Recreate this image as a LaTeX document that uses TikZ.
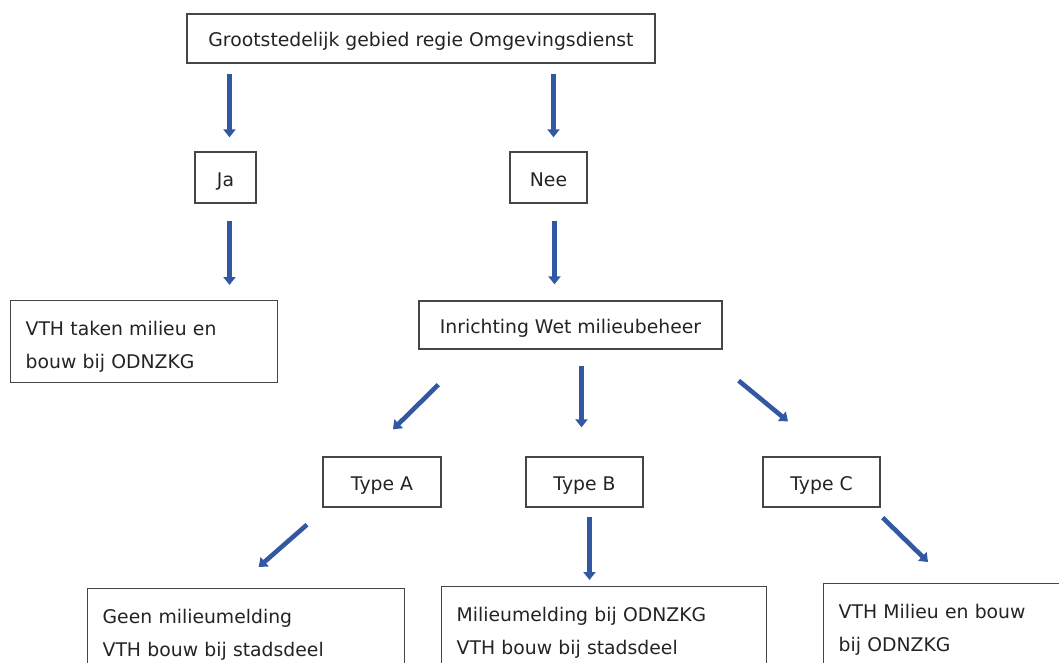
\documentclass[tikz,border=0pt]{standalone}
\usepackage{fontspec}
\setmainfont{DejaVu Sans}
\usetikzlibrary{arrows.meta}

\definecolor{arrowblue}{RGB}{50,87,163}
\definecolor{boxgray}{RGB}{70,70,70}
\definecolor{textgray}{RGB}{35,35,35}

\begin{document}
\begin{tikzpicture}[x=1pt, y=-1pt,
        box/.style={draw=boxgray, line width=1.3pt, text=textgray, inner sep=0pt,
            text height=17pt, text depth=0pt, font=\fontsize{18.8}{33}\selectfont},
        textbox/.style={box, anchor=north west, align=left, inner xsep=15pt, inner ysep=20pt, text height=15pt},
        arr/.style={draw=arrowblue, line width=4.6pt, -{Triangle[width=12pt,length=8pt]}}]
        \clip (0,0) rectangle (1059,663);

        % question and answers
        \node[box, minimum width=468pt, minimum height=49pt] (top) at (421,38.5) {Grootstedelijk gebied regie Omgevingsdienst};
        \node[box, minimum width=61pt, minimum height=51pt] (ja) at (225.5,177.5) {Ja};
        \node[box, minimum width=77pt, minimum height=51pt] (nee) at (548.5,177.5) {Nee};

        \node[textbox, text width=237pt, text depth=27pt] (vthja) at (10,300) {VTH taken milieu en\\bouw bij ODNZKG};
        \node[box, minimum width=303pt, minimum height=48pt] (inr) at (570.5,325) {Inrichting Wet milieubeheer};

        % types
        \node[box, minimum width=118pt, minimum height=50pt] (typeA) at (382,482) {Type A};
        \node[box, minimum width=117pt, minimum height=50pt] (typeB) at (584.5,482) {Type B};
        \node[box, minimum width=117pt, minimum height=50pt] (typeC) at (821.5,482) {Type C};

        % outcomes per type
        \node[textbox, text width=287pt, text depth=70pt] (geen) at (87,588) {Geen milieumelding\\VTH bouw bij stadsdeel};
        \node[textbox, text width=295pt, text depth=70pt] (melding) at (441,586) {Milieumelding bij ODNZKG\\VTH bouw bij stadsdeel};
        \node[textbox, text width=227pt, text depth=70pt] (vthc) at (823,583) {VTH Milieu en bouw\\bij ODNZKG};

        % arrows
        \draw[arr, shorten <=10pt, shorten >=14pt] ([xshift=4pt]top.south -| ja.north) -- ([xshift=4pt]ja.north);
        \draw[arr, shorten <=10pt, shorten >=14pt] ([xshift=5pt]top.south -| nee.north) -- ([xshift=5pt]nee.north);
        \draw[arr, shorten <=17pt, shorten >=15pt] ([xshift=4pt]ja.south) -- ([xshift=4pt]ja.south |- vthja.north);
        \draw[arr, shorten <=17pt, shorten >=16pt] ([xshift=6pt]nee.south) -- ([xshift=6pt]nee.south |- inr.north);

        \draw[arr] ([shift={(20,35)}]inr.south west) -- ([shift={(11,-27)}]typeA.north);
        \draw[arr, shorten <=16pt, shorten >=29pt] ([xshift=-3pt]typeB.north |- inr.south) -- ([xshift=-3pt]typeB.north);
        \draw[arr] ([shift={(16,31)}]inr.south east) -- ([shift={(-33.5,-35)}]typeC.north);

        \draw[arr] ([shift={(-75,17)}]typeA.south) -- ([shift={(12.5,-21)}]geen.north);
        \draw[arr, shorten <=9pt, shorten >=6pt] ([xshift=5pt]typeB.south) -- ([xshift=5pt]typeB.south |- melding.north);
        \draw[arr] ([shift={(2,10)}]typeC.south east) -- ([shift={(105,-21)}]vthc.north west);
\end{tikzpicture}
\end{document}
